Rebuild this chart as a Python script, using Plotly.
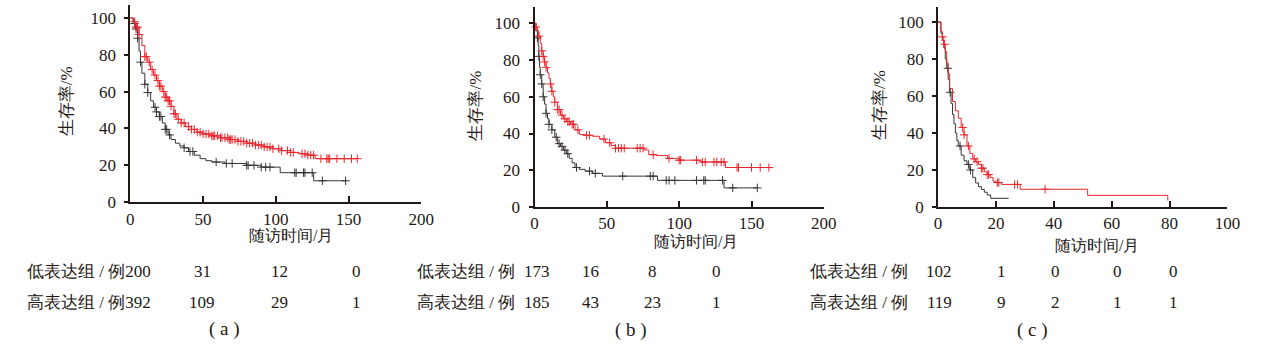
import numpy as np
import plotly.graph_objects as go

W, H = 1270, 355

# ---------------- data ----------------
# Panel (a)
a_high_t = [0, 2, 4, 6, 8, 10, 12, 14, 16, 18, 20, 22, 24, 26, 28, 30, 32, 35, 38, 42, 46, 50, 56, 62, 68, 74, 80, 86, 92, 98, 104, 110, 116, 122, 127, 156]
a_high_s = [100, 98, 95, 91, 85, 79, 76, 72, 69, 66, 63, 60, 57, 55, 52, 48, 45, 43, 41, 39.5, 38, 37, 36, 35, 34, 33, 32, 31, 30, 29, 28, 27, 26.3, 25.5, 23.6, 23.6]
a_high_cens = [3, 4, 5, 6, 10, 11, 13, 15, 17, 19, 20, 21, 23, 24, 25, 26, 27, 28, 30, 31, 33, 35, 37, 40, 42, 44, 46, 48, 50, 52, 54, 56, 57, 58, 60, 62, 63, 65, 67, 68, 69, 70, 72, 74, 76, 78, 80, 82, 84, 86, 88, 90, 92, 94, 96, 98, 102, 104, 108, 110, 112, 118, 120, 122, 124, 126, 131, 135, 136, 137, 142, 147, 152, 156]
a_low_t = [0, 2, 3.5, 5, 6, 7, 8, 10, 12, 14, 16, 18, 20, 22, 24, 26, 28, 31, 34, 37, 40, 44, 48, 52, 56, 65, 80, 90, 103, 126, 148]
a_low_s = [100, 97, 94, 89, 82, 76, 70, 64, 59.5, 55, 51.5, 49, 46.5, 43, 39.5, 36.5, 34, 32, 30.5, 29.5, 27.5, 25.5, 23.6, 22.5, 21.8, 21, 20, 19, 16, 11.6, 11.6]
a_low_cens = [3, 4, 5, 7, 10, 12, 17, 18, 20, 21, 24, 25, 27, 37, 41, 43, 59, 66, 70, 80, 81, 85, 90, 93, 96, 113, 114, 119, 120, 125, 132, 148]

# Panel (b)
b_high_t = [0, 1, 2, 3, 4, 5, 6, 7, 8, 9, 10, 11, 12, 13, 14, 16, 18, 20, 22, 25, 28, 31, 35, 40, 45, 49, 53, 56, 72, 76, 79, 84, 92, 100, 115, 132, 162]
b_high_s = [100, 98, 96, 93, 89, 85, 82, 79, 76, 73, 70, 67, 63, 60, 57, 53, 50, 48, 46.5, 45, 42, 39.5, 39, 38.5, 37, 35, 33.5, 32, 32, 31, 28.5, 28, 26.5, 25.5, 24.5, 21.5, 21.5]
b_high_cens = [1, 3, 5, 6, 7, 8, 11, 12, 14, 16, 17, 19, 21, 23, 24, 26, 27, 30, 36, 38, 48, 52, 56, 58, 60, 62, 71, 73, 75, 82, 93, 100, 101, 112, 116, 118, 124, 126, 129, 131, 140, 141, 150, 156, 162]
b_low_t = [0, 1, 2, 2.5, 3, 3.5, 4, 5, 6, 7, 8, 9, 10, 12, 14, 16, 18, 20, 22, 24, 26, 28, 31, 35, 40, 47, 85, 131, 154]
b_low_s = [100, 96, 92, 88, 82, 76, 72, 67, 60, 56, 51, 48, 45, 42, 38, 34.5, 33, 31, 29, 26.5, 24, 21.5, 20.5, 19.5, 18.3, 16.8, 14.5, 10.4, 10.4]
b_low_cens = [2, 3, 4, 5, 6, 8, 10, 12, 15, 17, 19, 21, 23, 29, 38, 42, 61, 80, 82, 91, 93, 97, 112, 117, 118, 130, 137, 154]

# Panel (c)
c_high_t = [0, 1, 1.5, 2, 2.5, 3, 3.5, 4, 5, 6, 7, 8, 9, 10, 11, 12, 13, 14, 15, 16, 17, 18, 19, 20, 22, 28.4, 51.7, 79.4]
c_high_s = [100, 95, 92, 88, 84, 78, 72, 64, 57, 52, 48, 43, 39, 33, 29, 26, 24.5, 23, 21, 19, 17.5, 16, 14, 13.2, 12.2, 9.6, 6.3, 3.5]
c_high_cens = [1.5, 2.3, 8.5, 9, 10.5, 12.5, 13.5, 15, 15.5, 17, 17.5, 20.5, 21, 26.5, 27.5, 37]
c_low_t = [0, 1, 1.5, 2, 2.5, 3, 3.5, 4, 4.5, 5, 5.5, 6, 6.5, 7, 8, 9, 10, 11, 12, 13, 14, 15, 16, 17, 18.2, 24.4]
c_low_s = [100, 94, 90, 86, 80, 75, 69, 62, 56, 50, 45, 40, 36, 33, 28, 25, 23, 20, 16, 13, 11, 9.5, 8, 6.5, 4.7, 4.7]
c_low_cens = [3.4, 4.2, 7.6, 10.5, 11.2]

# risk tables
a_risk_low = [200, 31, 12, 0]
a_risk_high = [392, 109, 29, 1]
b_risk_low = [173, 16, 8, 0]
b_risk_high = [185, 43, 23, 1]
c_risk_low = [102, 1, 0, 0, 0]
c_risk_high = [119, 9, 2, 1, 1]

ab_xticks = [0, 50, 100, 150, 200]
c_xticks = [0, 20, 40, 60, 80, 100]
y_ticks = [0, 20, 40, 60, 80, 100]

low_label = "低表达组 / 例"
high_label = "高表达组 / 例"
y_title = "生存率/%"
x_title = "随访时间/月"
panel_tags = ["( a )", "( b )", "( c )"]

# ---------------- style ----------------
RED = "#e8272e"
BLK = "#3a3536"
AX = "#231815"
FONT = "Liberation Serif"


def px(x):
    return x / W


def py(y):
    return 1 - y / H


def surv_at(t, s, tc):
    t = np.asarray(t, float)
    s = np.asarray(s, float)
    idx = np.searchsorted(t, np.asarray(tc, float), side="right") - 1
    idx = np.clip(idx, 0, len(s) - 1)
    return s[idx]


fig = go.Figure()

panels = [
    dict(key="", x0=128, x1=423, ybot=208, ytop=5, ymax=(208 - 5) / 1.895, xmax=200, xticks=ab_xticks,
         curves=[(a_low_t, a_low_s, a_low_cens, BLK), (a_high_t, a_high_s, a_high_cens, RED)]),
    dict(key="2", x0=537.7, x1=831, ybot=213, ytop=7, ymax=(213 - 7) / 1.89, xmax=200, xticks=ab_xticks,
         curves=[(b_low_t, b_low_s, b_low_cens, BLK), (b_high_t, b_high_s, b_high_cens, RED)]),
    dict(key="3", x0=946.7, x1=1240, ybot=213, ytop=7, ymax=(213 - 7) / 1.903, xmax=100, xticks=c_xticks,
         curves=[(c_low_t, c_low_s, c_low_cens, BLK), (c_high_t, c_high_s, c_high_cens, RED)]),
]

layout = dict(
    width=W, height=H, margin=dict(l=0, r=0, t=0, b=0),
    paper_bgcolor="white", plot_bgcolor="white", showlegend=False,
    font=dict(family=FONT, color=AX),
)

for p in panels:
    k = p["key"]
    xa = "x" + k
    ya = "y" + k
    for t, s, cens, col in p["curves"]:
        fig.add_trace(go.Scatter(x=t, y=s, mode="lines", line=dict(color=col, width=1, shape="hv"),
                                 xaxis=xa, yaxis=ya, hoverinfo="skip"))
        fig.add_trace(go.Scatter(x=cens, y=surv_at(t, s, cens), mode="markers",
                                 marker=dict(symbol="cross-thin", size=6, color=col, line=dict(color=col, width=1)),
                                 xaxis=xa, yaxis=ya, hoverinfo="skip", cliponaxis=False))
    layout["xaxis" + k] = dict(
        domain=[px(p["x0"]), px(p["x1"])], range=[0, p["xmax"]], anchor=ya,
        tickvals=p["xticks"], ticks="inside", ticklen=6, tickwidth=2, tickcolor=AX,
        showline=True, linewidth=2, linecolor=AX, showgrid=False, zeroline=False,
        tickfont=dict(family=FONT, size=17, color=AX),
    )
    layout["yaxis" + k] = dict(
        domain=[py(p["ybot"]), py(p["ytop"])], range=[0, p["ymax"]], anchor=xa,
        tickvals=y_ticks, ticks="outside", ticklen=4, tickwidth=2, tickcolor=AX,
        showline=True, linewidth=2, linecolor=AX, showgrid=False, zeroline=False,
        ticklabelstandoff=5,
        tickfont=dict(family=FONT, size=17, color=AX),
    )

fig.update_layout(**layout)

ann = []


def text(x, y, s, size=16, anchor="center", angle=0):
    ann.append(dict(x=px(x), y=py(y), xref="paper", yref="paper", text=s, showarrow=False,
                    xanchor=anchor, yanchor="middle", textangle=angle,
                    font=dict(family=FONT, size=size, color=AX)))


# y titles
text(63, 104, y_title, size=17, angle=-90)
text(478, 109, y_title, size=17, angle=-90)
text(888, 108, y_title, size=17, angle=-90)
# x titles
text(291, 242, x_title, size=16)
text(701, 249, x_title, size=16)
text(1108, 253, x_title, size=16)

# risk tables
ROW1, ROW2 = 279, 311
text(21, ROW1, low_label + str(a_risk_low[0]), size=17, anchor="left")
text(21, ROW2, high_label + str(a_risk_high[0]), size=17, anchor="left")
for xv, v1, v2 in zip([201, 279, 357], a_risk_low[1:], a_risk_high[1:]):
    text(xv, ROW1, str(v1), size=17)
    text(xv, ROW2, str(v2), size=17)

text(417, ROW1, low_label, size=17, anchor="left")
text(417, ROW2, high_label, size=17, anchor="left")
for xv, v1, v2 in zip([540, 594, 657, 722], b_risk_low, b_risk_high):
    text(xv, ROW1, str(v1), size=17)
    text(xv, ROW2, str(v2), size=17)

text(815, ROW1, low_label, size=17, anchor="left")
text(815, ROW2, high_label, size=17, anchor="left")
for xv, v1, v2 in zip([948, 1011, 1066, 1129, 1185], c_risk_low, c_risk_high):
    text(xv, ROW1, str(v1), size=17)
    text(xv, ROW2, str(v2), size=17)

text(223, 339, panel_tags[0], size=19)
text(635, 340, panel_tags[1], size=19)
text(1042, 340, panel_tags[2], size=19)

fig.update_layout(annotations=ann)
fig.write_html("out.html")
